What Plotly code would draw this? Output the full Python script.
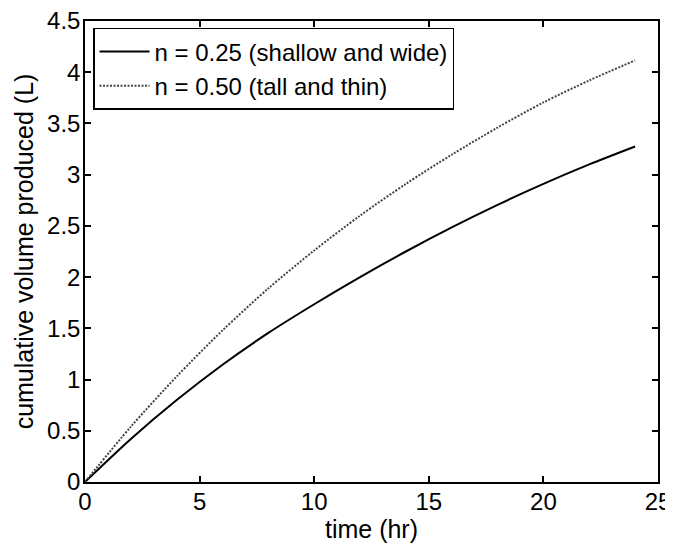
import plotly.graph_objects as go

time_hr = [0, 2, 4, 6, 8, 10, 12, 14, 16, 18, 20, 22, 24]
vol_shallow = [0, 0.42, 0.80, 1.145, 1.455, 1.735, 2.00, 2.25, 2.485, 2.705, 2.91, 3.10, 3.275]
vol_tall = [0, 0.54, 1.03, 1.48, 1.89, 2.26, 2.60, 2.91, 3.195, 3.46, 3.705, 3.92, 4.115]
names = ["n = 0.25 (shallow and wide)", "n = 0.50 (tall and thin)"]
x_ticks = [0, 5, 10, 15, 20, 25]
y_ticks = [0, 0.5, 1, 1.5, 2, 2.5, 3, 3.5, 4, 4.5]

FONT = "Liberation Sans, Arial, sans-serif"

fig = go.Figure()
fig.add_trace(go.Scatter(x=time_hr, y=vol_shallow, mode="lines", name=names[0],
                         line=dict(color="black", width=2, shape="spline", smoothing=0.8)))
fig.add_trace(go.Scatter(x=time_hr, y=vol_tall, mode="lines", name=names[1],
                         line=dict(color="#444444", width=2, dash="2px,1.5px",
                                   shape="spline", smoothing=0.8)))

axis_common = dict(showline=True, linecolor="black", linewidth=1.5, mirror="allticks",
                   ticks="inside", ticklen=6, tickwidth=1.5, tickcolor="black",
                   showgrid=False, zeroline=False, automargin=False,
                   ticklabeloverflow="allow",
                   tickfont=dict(family=FONT, size=24, color="black"))

# the page body has an 8px default margin, so margins are offset accordingly
fig.update_layout(
    width=673, height=544,
    margin=dict(l=77, r=23, t=13, b=70, autoexpand=False),
    paper_bgcolor="white", plot_bgcolor="white",
    font=dict(family=FONT, size=24, color="black"),
    xaxis=dict(range=[0, 25], tickvals=x_ticks,
               title=dict(text="time (hr)", standoff=0, font=dict(size=25)),
               ticklabelstandoff=-3, **axis_common),
    yaxis=dict(range=[0, 4.5], tickvals=y_ticks,
               title=dict(text="cumulative volume produced (L)", standoff=6, font=dict(size=25)),
               ticklabelstandoff=-2, **axis_common),
    legend=dict(x=0.014, y=0.985, xanchor="left", yanchor="top",
                bgcolor="white", bordercolor="black", borderwidth=1.5,
                font=dict(family=FONT, size=24), itemwidth=50,
                tracegroupgap=0),
    showlegend=True,
)

fig.write_html("out.html")
